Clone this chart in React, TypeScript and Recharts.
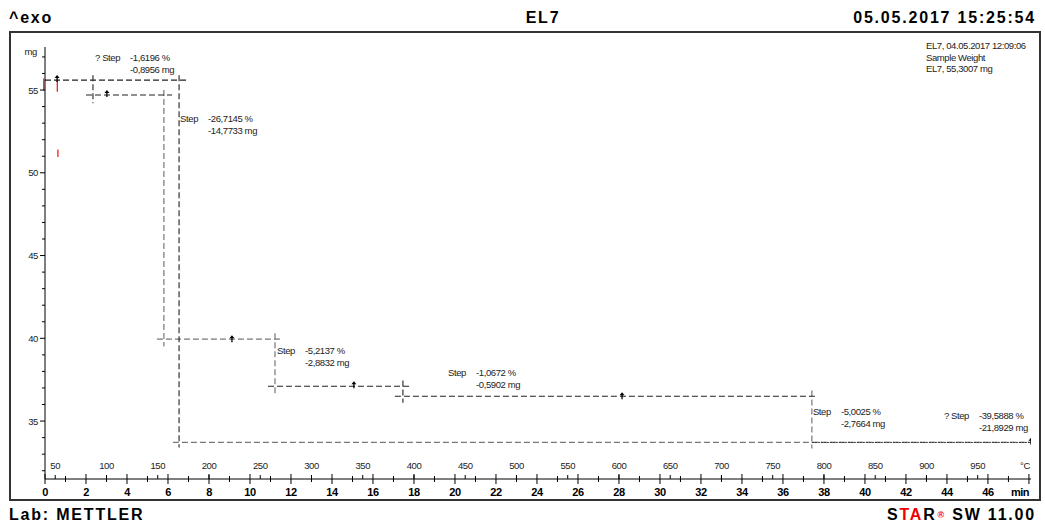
import React from 'react';
import { ComposedChart, XAxis, YAxis, ReferenceLine, Scatter } from 'recharts';

// time axis (min) and temperature axis (°C), 20 K/min from 40 °C
const timeTicks = Array.from({ length: 49 }, (_, i) => i);
const tempTicks = [50, 100, 150, 200, 250, 300, 350, 400, 450, 500, 550, 600, 650, 700, 750, 800, 850, 900, 950, 1000];
const massTicks = Array.from({ length: 26 }, (_, i) => 32 + i);

// step evaluation lines: [t1, m1, t2, m2]
const darkSegments = [
  [0, 55.6, 6.9, 55.6],
  [2.34, 55.9, 2.34, 54.2],
  [2.0, 54.7, 6.2, 54.7],
  [6.54, 55.9, 6.54, 33.4],
  [10.88, 37.1, 17.8, 37.1],
  [17.46, 37.45, 17.46, 36.1],
  [17.07, 36.5, 37.7, 36.5],
];
const graySegments = [
  [5.8, 55.0, 5.8, 39.5],
  [5.46, 39.95, 11.56, 39.95],
  [11.22, 40.3, 11.22, 36.65],
  [37.41, 36.85, 37.41, 33.35],
  [6.24, 33.71, 48.1, 33.71],
];
const redMarks = [
  [-0.06, 55.7, -0.06, 54.95],
  [0.6, 55.55, 0.6, 54.9],
  [0.63, 51.4, 0.63, 50.95],
];

const markers = [
  { t: 0.59, m: 55.66 },
  { t: 3.02, m: 54.76 },
  { t: 9.12, m: 39.95 },
  { t: 15.07, m: 37.17 },
  { t: 28.15, m: 36.5 },
  { t: 48.1, m: 33.75 },
];

const stepLabels = [
  { t: 2.44, m: 56.78, head: '? Step', pct: '-1,6196 %', mass: '-0,8956 mg' },
  { t: 6.59, m: 53.04, head: 'Step', pct: '-26,7145 %', mass: '-14,7733 mg' },
  { t: 11.32, m: 39.05, head: 'Step', pct: '-5,2137 %', mass: '-2,8832 mg' },
  { t: 19.66, m: 37.72, head: 'Step', pct: '-1,0672 %', mass: '-0,5902 mg' },
  { t: 37.46, m: 35.36, head: 'Step', pct: '-5,0025 %', mass: '-2,7664 mg' },
  { t: 43.85, m: 35.12, head: '? Step', pct: '-39,5888 %', mass: '-21,8929 mg' },
];

const infoLines = ['EL7, 04.05.2017 12:09:06', 'Sample Weight', 'EL7, 55,3007 mg'];

const PLOT_BOTTOM = 479;
const FONT = "'Liberation Sans', Arial, sans-serif";

const tempData = tempTicks.map((T) => ({ T, m: 31.5 }));

const TimeTick = (props: any) => {
  const { x, payload } = props;
  const v = payload.value;
  const even = v % 2 === 0;
  return (
    <g>
      <line x1={x} x2={x} y1={PLOT_BOTTOM - (even ? 5 : 3)} y2={PLOT_BOTTOM + (even ? 5 : 3)} stroke="#000" />
      {even && v < 48 && (
        <text x={x} y={PLOT_BOTTOM + 17} textAnchor="middle" fontSize={11} fontWeight="bold" fill="#000" fontFamily={FONT} letterSpacing={-0.5}>
          {v}
        </text>
      )}
      {v === 48 && (
        <text x={x} y={PLOT_BOTTOM + 17} textAnchor="end" fontSize={11} fontWeight="bold" fill="#000" fontFamily={FONT} letterSpacing={-0.5}>
          min
        </text>
      )}
    </g>
  );
};

const TempTick = (props: any) => {
  const { x, payload } = props;
  const v = payload.value;
  return (
    <g>
      {v < 1000 && <line x1={x} x2={x} y1={PLOT_BOTTOM - 4} y2={PLOT_BOTTOM} stroke="#000" />}
      <text x={v < 1000 ? x : x + 1} y={PLOT_BOTTOM - 10} textAnchor={v < 1000 ? 'middle' : 'end'} fontSize={9.5} fill="#222" fontFamily={FONT} letterSpacing={-0.4}>
        {v < 1000 ? v : '°C'}
      </text>
    </g>
  );
};

const MassTick = (props: any) => {
  const { x, y, payload } = props;
  const major = payload.value % 5 === 0;
  return (
    <g>
      <line x1={x - (major ? 5 : 3)} x2={x} y1={y} y2={y} stroke="#000" />
      {major && (
        <text x={x - 7} y={y + 3.5} textAnchor="end" fontSize={9.5} fill="#222" fontFamily={FONT} letterSpacing={-0.4}>
          {payload.value}
        </text>
      )}
    </g>
  );
};

const Arrow = (props: any) => {
  const { cx, cy } = props;
  return (
    <g>
      <path d={`M${cx - 2.5},${cy - 1} L${cx},${cy - 4} L${cx + 2.5},${cy - 1} Z`} fill="#000" />
      <line x1={cx} x2={cx} y1={cy - 2} y2={cy + 3} stroke="#000" strokeWidth={1.3} />
    </g>
  );
};

const StepText = (props: any) => {
  const { cx, cy, payload } = props;
  const col = payload.head.length > 4 ? 35 : 28;
  const style = { fontSize: 9.5, fill: '#222', fontFamily: FONT, letterSpacing: -0.4 };
  return (
    <g>
      <text x={cx} y={cy} {...style}>{payload.head}</text>
      <text x={cx + col} y={cy} {...style}>{payload.pct}</text>
      <text x={cx + col} y={cy + 12} {...style}>{payload.mass}</text>
    </g>
  );
};

const Nothing = () => <g />;

const seg = (s: number[]) => [{ x: s[0], y: s[1] }, { x: s[2], y: s[3] }];

const headerStyle: React.CSSProperties = {
  position: 'absolute',
  fontFamily: FONT,
  fontWeight: 'bold',
  fontSize: 16,
  letterSpacing: 1.8,
  color: '#000',
  whiteSpace: 'nowrap',
  lineHeight: '16px',
};

export default function App() {
  return (
    <div style={{ position: 'absolute', left: 0, top: 0, width: 1045, height: 525, background: '#fff', overflow: 'hidden' }}>
      <div style={{ ...headerStyle, left: 9, top: 10 }}>^exo</div>
      <div style={{ ...headerStyle, left: 0, width: 1086, top: 10, textAlign: 'center' }}>EL7</div>
      <div style={{ ...headerStyle, right: 9, top: 10 }}>05.05.2017 15:25:54</div>
      <div style={{ ...headerStyle, left: 9, top: 507 }}>Lab: METTLER</div>
      <div style={{ ...headerStyle, right: 9, top: 507 }}>
        S<span style={{ color: '#e00' }}>TA</span>R
        <span style={{ color: '#e00', fontSize: 9, verticalAlign: 'top', marginLeft: 1 }}>®</span> SW 11.00
      </div>
      <div style={{ position: 'absolute', left: 9, top: 31, width: 1032, height: 470, border: '2px solid #333', boxSizing: 'border-box' }} />
      <div style={{ position: 'absolute', left: 926, top: 40, fontFamily: FONT, fontSize: 9.5, letterSpacing: -0.4, lineHeight: '11.5px', color: '#222' }}>
        {infoLines.map((l) => (
          <div key={l}>{l}</div>
        ))}
      </div>
      <div style={{ position: 'absolute', left: 0, top: 0 }}>
        <ComposedChart width={1045} height={525} margin={{ top: 47, right: 14, bottom: 0, left: 0 }}>
          <XAxis
            xAxisId={0}
            type="number"
            dataKey="t"
            domain={[0, 48.1]}
            allowDataOverflow
            ticks={timeTicks}
            interval={0}
            tick={<TimeTick />}
            tickLine={false}
            tickSize={0}
            tickMargin={0}
            axisLine={{ stroke: '#000' }}
            height={40}
          />
          <XAxis
            xAxisId="temp"
            type="number"
            dataKey="T"
            domain={[40, 40 + 48.1 * 20]}
            allowDataOverflow
            ticks={tempTicks}
            interval={0}
            tick={<TempTick />}
            tickLine={false}
            tickSize={0}
            tickMargin={0}
            axisLine={false}
            height={6}
          />
          <YAxis
            type="number"
            dataKey="m"
            domain={[31.5, 57.6]}
            allowDataOverflow
            ticks={massTicks}
            interval={0}
            tick={<MassTick />}
            tickLine={false}
            tickSize={0}
            tickMargin={0}
            axisLine={{ stroke: '#000' }}
            width={45}
            label={{
              value: 'mg',
              content: (p: any) => (
                <text x={p.viewBox.x + p.viewBox.width - 8} y={p.viewBox.y + 8} textAnchor="end" fontSize={9.5} fill="#222" fontFamily={FONT} letterSpacing={-0.4}>
                  mg
                </text>
              ),
            }}
          />
          {graySegments.map((s, i) => (
            <ReferenceLine key={'g' + i} segment={seg(s)} stroke="#777" strokeWidth={1.2} strokeDasharray="6 3" ifOverflow="visible" />
          ))}
          {darkSegments.map((s, i) => (
            <ReferenceLine key={'d' + i} segment={seg(s)} stroke="#222" strokeWidth={1.1} strokeDasharray="6 3" ifOverflow="visible" />
          ))}
          <ReferenceLine segment={seg([37.41, 33.71, 48.1, 33.71])} stroke="#333" strokeWidth={1} strokeDasharray="2 1" ifOverflow="visible" />
          {redMarks.map((s, i) => (
            <ReferenceLine key={'r' + i} segment={seg(s)} stroke="#e22" strokeWidth={1.3} ifOverflow="visible" />
          ))}
          <Scatter xAxisId="temp" data={tempData} shape={<Nothing />} isAnimationActive={false} />
          <Scatter data={markers} shape={<Arrow />} isAnimationActive={false} />
          <Scatter data={stepLabels} shape={<StepText />} isAnimationActive={false} />
        </ComposedChart>
      </div>
    </div>
  );
}
